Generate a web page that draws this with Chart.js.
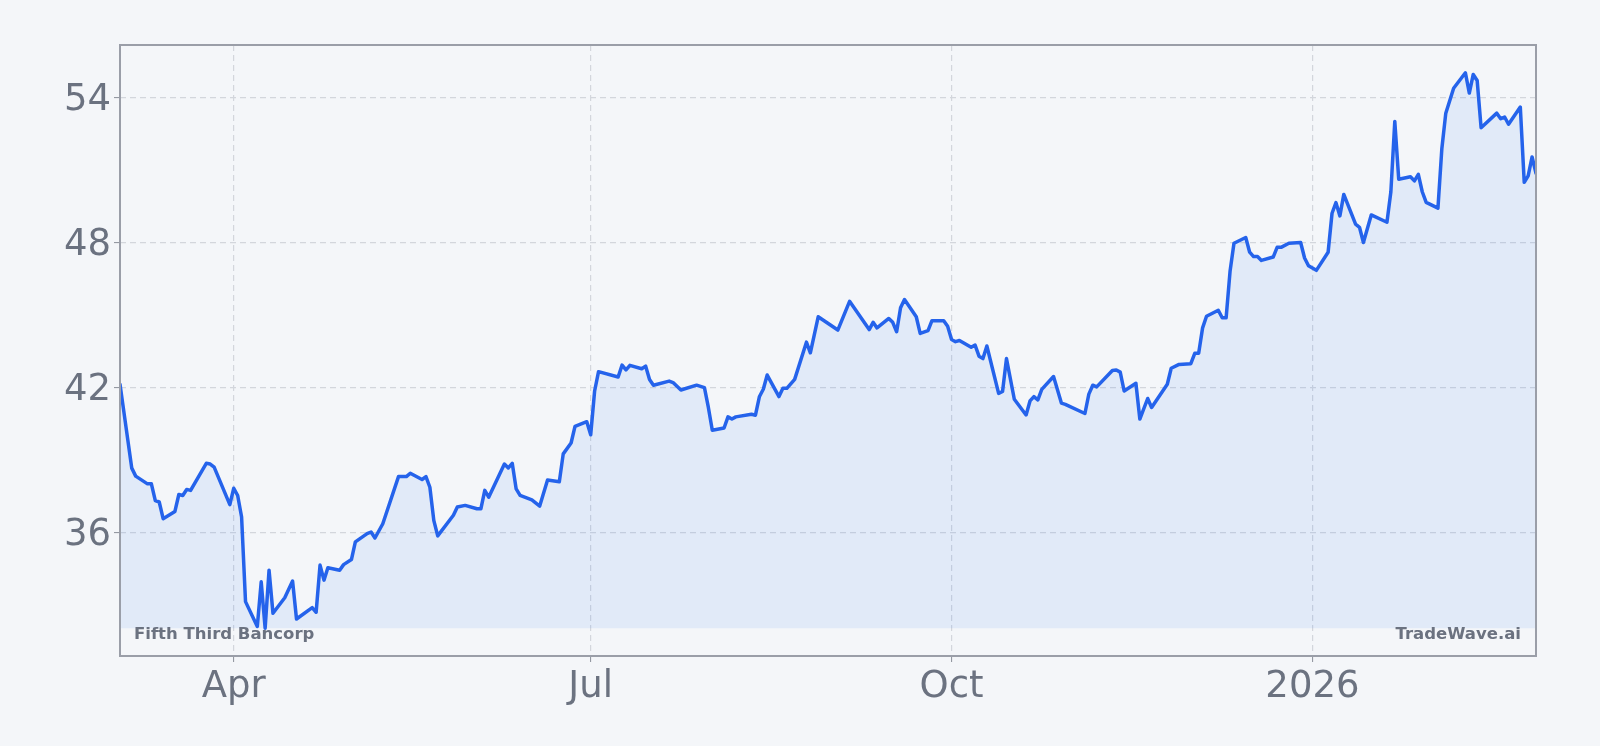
<!DOCTYPE html>
<html>
<head>
<meta charset="utf-8">
<script src="https://cdn.jsdelivr.net/npm/chart.js@4.4.1/dist/chart.umd.min.js"></script>
<style>
html,body{margin:0;padding:0;background:#f4f6f9;}
canvas{display:block;}
</style>
</head>
<body>
<canvas id="c" width="1600" height="746"></canvas>
<script>
const companyName = 'Fifth Third Bancorp';
const brandName = 'TradeWave.ai';

const dates = [
'2025-03-03','2025-03-06','2025-03-07','2025-03-10','2025-03-11','2025-03-12','2025-03-13','2025-03-14','2025-03-17','2025-03-18',
'2025-03-19','2025-03-20','2025-03-21','2025-03-25','2025-03-26','2025-03-27','2025-03-31','2025-04-01','2025-04-02','2025-04-03',
'2025-04-04','2025-04-07','2025-04-08','2025-04-09','2025-04-10','2025-04-11','2025-04-14','2025-04-16','2025-04-17','2025-04-21',
'2025-04-22','2025-04-23','2025-04-24','2025-04-25','2025-04-28','2025-04-29','2025-05-01','2025-05-02','2025-05-05','2025-05-06',
'2025-05-07','2025-05-09','2025-05-13','2025-05-15','2025-05-16','2025-05-19','2025-05-20','2025-05-21','2025-05-22','2025-05-23',
'2025-05-27','2025-05-28','2025-05-30','2025-06-02','2025-06-03','2025-06-04','2025-06-05','2025-06-09','2025-06-10','2025-06-11',
'2025-06-12','2025-06-13','2025-06-16','2025-06-18','2025-06-20','2025-06-23','2025-06-24','2025-06-26','2025-06-27','2025-06-30',
'2025-07-01','2025-07-02','2025-07-03','2025-07-08','2025-07-09','2025-07-10','2025-07-11','2025-07-14','2025-07-15','2025-07-16',
'2025-07-17','2025-07-21','2025-07-22','2025-07-24','2025-07-28','2025-07-30','2025-07-31','2025-08-01','2025-08-04','2025-08-05',
'2025-08-06','2025-08-07','2025-08-11','2025-08-12','2025-08-13','2025-08-14','2025-08-15','2025-08-18','2025-08-19','2025-08-20',
'2025-08-22','2025-08-25','2025-08-26','2025-08-28','2025-09-02','2025-09-05','2025-09-10','2025-09-11','2025-09-12','2025-09-15',
'2025-09-16','2025-09-17','2025-09-18','2025-09-19','2025-09-22','2025-09-23','2025-09-25','2025-09-26','2025-09-29','2025-09-30',
'2025-10-01','2025-10-02','2025-10-03','2025-10-06','2025-10-07','2025-10-08','2025-10-09','2025-10-10','2025-10-13','2025-10-14',
'2025-10-15','2025-10-17','2025-10-20','2025-10-21','2025-10-22','2025-10-23','2025-10-24','2025-10-27','2025-10-29','2025-10-30',
'2025-11-04','2025-11-05','2025-11-06','2025-11-07','2025-11-11','2025-11-12','2025-11-13','2025-11-14','2025-11-17','2025-11-18',
'2025-11-20','2025-11-21','2025-11-25','2025-11-26','2025-11-28','2025-12-01','2025-12-02','2025-12-03','2025-12-04','2025-12-05',
'2025-12-08','2025-12-09','2025-12-10','2025-12-11','2025-12-12','2025-12-15','2025-12-16','2025-12-17','2025-12-18','2025-12-19',
'2025-12-22','2025-12-23','2025-12-24','2025-12-26','2025-12-29','2025-12-30','2025-12-31','2026-01-02','2026-01-05','2026-01-06',
'2026-01-07','2026-01-08','2026-01-09','2026-01-12','2026-01-13','2026-01-14','2026-01-16','2026-01-20','2026-01-21','2026-01-22',
'2026-01-23','2026-01-26','2026-01-27','2026-01-28','2026-01-29','2026-01-30','2026-02-02','2026-02-03','2026-02-04','2026-02-06',
'2026-02-09','2026-02-10','2026-02-11','2026-02-12','2026-02-13','2026-02-17','2026-02-18','2026-02-19','2026-02-20','2026-02-23',
'2026-02-24','2026-02-25','2026-02-26','2026-02-27'
];

const prices = [
42.14,38.67,38.34,38.02,38.02,37.33,37.27,36.58,36.88,37.58,
37.54,37.79,37.75,38.87,38.84,38.71,37.16,37.84,37.54,36.65,
33.15,32.12,33.97,32.05,34.45,32.67,33.31,34.00,32.43,32.90,
32.71,34.66,34.04,34.55,34.45,34.68,34.89,35.62,35.96,36.03,
35.78,36.37,38.32,38.32,38.46,38.20,38.32,37.88,36.51,35.87,
36.72,37.06,37.13,36.99,36.99,37.75,37.47,38.84,38.68,38.87,
37.81,37.54,37.36,37.10,38.18,38.11,39.26,39.71,40.40,40.59,
40.05,41.86,42.66,42.44,42.93,42.73,42.92,42.78,42.89,42.34,
42.10,42.27,42.21,41.90,42.10,42.00,41.18,40.24,40.33,40.79,
40.70,40.79,40.90,40.86,41.62,41.93,42.52,41.63,41.97,41.97,
42.34,43.88,43.44,44.93,44.38,45.57,44.40,44.70,44.47,44.86,
44.70,44.31,45.30,45.64,44.93,44.24,44.36,44.77,44.77,44.54,
43.99,43.90,43.95,43.67,43.76,43.30,43.20,43.72,41.76,41.84,
43.20,41.52,40.87,41.45,41.63,41.49,41.93,42.46,41.36,41.31,
40.93,41.73,42.10,42.03,42.71,42.73,42.64,41.86,42.18,40.70,
41.55,41.18,42.14,42.80,42.96,42.99,43.42,43.42,44.47,44.95,
45.20,44.89,44.89,46.81,47.97,48.21,47.60,47.42,47.42,47.26,
47.40,47.80,47.80,47.97,48.00,47.36,47.04,46.85,47.60,49.21,
49.65,49.10,49.99,48.76,48.63,48.00,49.14,48.84,50.10,53.01,
50.62,50.72,50.55,50.82,50.10,49.66,49.42,51.89,53.35,54.38,
55.02,54.18,54.95,54.70,52.75,53.35,53.12,53.19,52.89,53.60,
50.49,50.76,51.54,50.86
];

const xTickDates = ['2025-04-01','2025-07-01','2025-10-01','2026-01-01'];
const xTickLabels = ['Apr','Jul','Oct','2026'];
const yTickValues = [36, 42, 48, 54];

function ts(s){ const p = s.split('-').map(Number); return Date.UTC(p[0], p[1]-1, p[2]); }

const points = dates.map((d, i) => ({x: ts(d), y: prices[i]}));
const pMin = Math.min(...prices), pMax = Math.max(...prices);
const pad = (pMax - pMin) * 0.05;

const AXIS_TEXT = '#6b7280';
const GRID = '#d3d6dc';

const bgPlugin = {
  id: 'bg',
  beforeDraw(chart){
    const ctx = chart.ctx;
    ctx.save();
    ctx.fillStyle = '#f4f6f9';
    ctx.fillRect(0, 0, chart.width, chart.height);
    ctx.restore();
  }
};

const framePlugin = {
  id: 'frame',
  afterDatasetsDraw(chart){
    const {ctx, chartArea: a} = chart;
    ctx.save();
    ctx.font = 'bold 16.5px "DejaVu Sans"';
    ctx.fillStyle = AXIS_TEXT;
    ctx.textBaseline = 'alphabetic';
    ctx.textAlign = 'left';
    ctx.fillText(companyName, a.left + 14, a.bottom - 17);
    ctx.textAlign = 'right';
    ctx.fillText(brandName, a.right - 15, a.bottom - 17);
    ctx.strokeStyle = '#9a9ea8';
    ctx.lineWidth = 2;
    ctx.strokeRect(a.left, a.top, a.right - a.left, a.bottom - a.top);
    ctx.restore();
  }
};

new Chart(document.getElementById('c'), {
  type: 'line',
  data: {
    datasets: [{
      data: points,
      borderColor: '#2563eb',
      borderWidth: 3.5,
      borderJoinStyle: 'round',
      borderCapStyle: 'round',
      pointRadius: 0,
      tension: 0,
      fill: {value: pMin},
      backgroundColor: 'rgba(59,130,246,0.1)'
    }]
  },
  options: {
    responsive: false,
    animation: false,
    devicePixelRatio: 1,
    layout: {padding: {left: 0, right: 64, top: 45, bottom: 0}},
    plugins: {legend: {display: false}, tooltip: {enabled: false}},
    scales: {
      x: {
        type: 'linear',
        min: ts(dates[0]),
        max: ts(dates[dates.length - 1]),
        afterBuildTicks(s){ s.ticks = xTickDates.map(d => ({value: ts(d)})); },
        afterFit(s){ s.height = 90; },
        ticks: {
          callback: (v, i) => xTickLabels[i],
          color: AXIS_TEXT,
          font: {family: '"DejaVu Sans"', size: 37},
          padding: 3,
          maxRotation: 0,
          autoSkip: false
        },
        grid: {color: GRID, lineWidth: 1.2, drawTicks: true, tickLength: 6, tickColor: '#8a8f99', tickWidth: 1},
        border: {display: false, dash: [6, 4]}
      },
      y: {
        type: 'linear',
        min: pMin - pad,
        max: pMax + pad,
        afterBuildTicks(s){ s.ticks = yTickValues.map(v => ({value: v})); },
        afterFit(s){ s.width = 120; },
        ticks: {
          callback: v => String(v),
          color: AXIS_TEXT,
          font: {family: '"DejaVu Sans"', size: 37},
          padding: 3,
          labelOffset: 3
        },
        grid: {color: GRID, lineWidth: 1.2, drawTicks: true, tickLength: 6, tickColor: '#8a8f99', tickWidth: 1},
        border: {display: false, dash: [6, 4]}
      }
    }
  },
  plugins: [bgPlugin, framePlugin]
});
</script>
</body>
</html>
